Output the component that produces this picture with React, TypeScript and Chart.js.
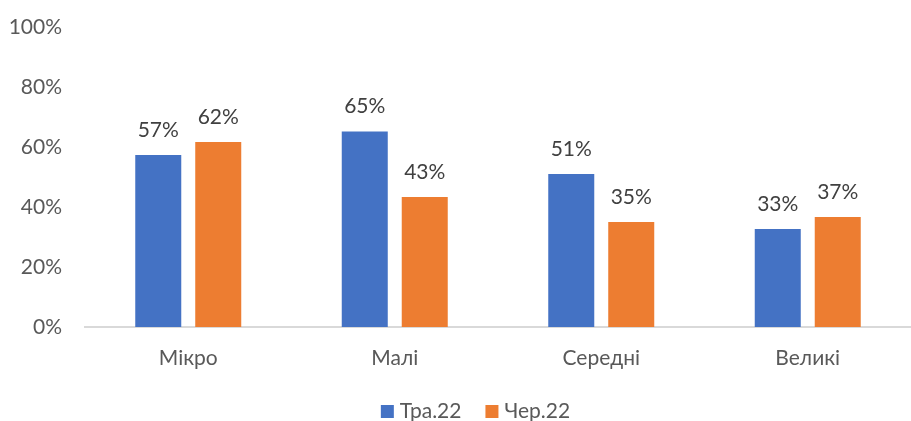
import React, { useEffect, useRef } from "react";
import { Chart, registerables } from "chart.js";

Chart.register(...registerables);

const categories = ["Мікро", "Малі", "Середні", "Великі"];
const seriesNames = ["Тра.22", "Чер.22"];
const may22 = [57.3, 65.2, 51, 32.7];
const jun22 = [61.7, 43.3, 35, 36.7];
const yTicks = [0, 20, 40, 60, 80, 100];
const colors = ["#4472C4", "#ED7D31"];

const FONT = "Lato, 'Open Sans', sans-serif";
const FS = 21;

const labelPlugin = {
  id: "barLabels",
  afterDatasetsDraw(chart: any) {
    const ctx = chart.ctx;
    ctx.save();
    ctx.font = `${FS}px ${FONT}`;
    ctx.fillStyle = "#404040";
    ctx.textAlign = "center";
    ctx.textBaseline = "alphabetic";
    chart.data.datasets.forEach((ds: any, i: number) => {
      const meta = chart.getDatasetMeta(i);
      meta.data.forEach((bar: any, j: number) => {
        ctx.fillText(Math.round(ds.data[j]) + "%", bar.x, bar.y - 18);
      });
    });
    ctx.restore();
  },
};

const legendPlugin = {
  id: "customLegend",
  afterDraw(chart: any) {
    const ctx = chart.ctx;
    ctx.save();
    ctx.font = `${FS}px ${FONT}`;
    ctx.textBaseline = "alphabetic";
    ctx.textAlign = "left";
    const box = 13;
    const gapBoxText = 6;
    const gapItems = 24;
    const widths = chart.data.datasets.map((d: any) => ctx.measureText(d.label).width);
    const total =
      widths.reduce((a: number, w: number) => a + box + gapBoxText + w, 0) +
      gapItems * (widths.length - 1);
    let x = (chart.width - total) / 2 + 20;
    const baseline = 418;
    chart.data.datasets.forEach((d: any, i: number) => {
      ctx.fillStyle = d.backgroundColor;
      ctx.fillRect(x, baseline - 13, box, box);
      x += box + gapBoxText;
      ctx.fillStyle = "#595959";
      ctx.fillText(d.label, x, baseline);
      x += widths[i] + gapItems;
    });
    ctx.restore();
  },
};

export default function App() {
  const ref = useRef<HTMLCanvasElement>(null);
  useEffect(() => {
    document.body.style.margin = "0";
    const chart = new Chart(ref.current!, {
      type: "bar",
      data: {
        labels: categories,
        datasets: [
          { label: seriesNames[0], data: may22, backgroundColor: colors[0] },
          { label: seriesNames[1], data: jun22, backgroundColor: colors[1] },
        ],
      },
      options: {
        animation: false,
        responsive: false,
        maintainAspectRatio: false,
        layout: { padding: { top: 27, right: 0, left: 0, bottom: 0 } },
        datasets: { bar: { categoryPercentage: 0.581, barPercentage: 0.767 } } as any,
        scales: {
          x: {
            afterFit(scale: any) {
              scale.height = 94;
            },
            grid: { display: false, drawTicks: false },
            border: { display: true, color: "#d9d9d9", width: 2 },
            ticks: { color: "#595959", font: { family: FONT, size: FS }, padding: 19 },
          },
          y: {
            min: 0,
            max: 100,
            afterFit(scale: any) {
              scale.width = 85;
              scale.paddingTop = 0;
              scale.paddingBottom = 0;
            },
            afterBuildTicks(scale: any) {
              scale.ticks = yTicks.map((v) => ({ value: v }));
            },
            grid: { display: false, drawTicks: false },
            border: { display: false },
            ticks: {
              color: "#595959",
              font: { family: FONT, size: FS },
              padding: 23,
              callback: (v: any) => v + "%",
            },
          },
        },
        plugins: {
          legend: { display: false },
          tooltip: { enabled: false },
        },
      },
      plugins: [labelPlugin, legendPlugin],
    });
    return () => chart.destroy();
  }, []);
  return (
    <div style={{ width: 911, height: 421 }}>
      <canvas ref={ref} width={911} height={421} style={{ width: 911, height: 421 }} />
    </div>
  );
}
